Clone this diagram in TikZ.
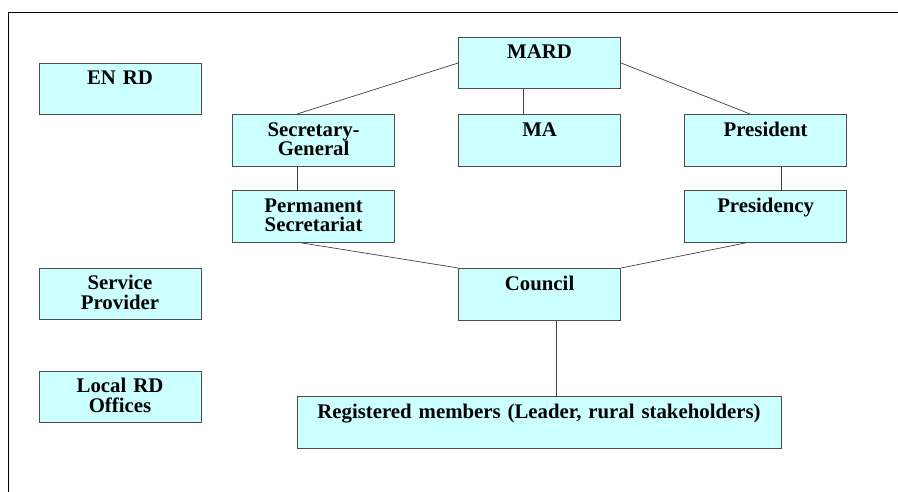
\documentclass[tikz,border=0pt]{standalone}
\usepackage{fontspec}
\setmainfont{Liberation Serif}
\usepackage{xcolor}
\usepackage{tikz}
\definecolor{boxfill}{HTML}{CCFFFF}
\definecolor{boxline}{HTML}{4D4D4D}

\begin{document}
\begin{tikzpicture}[
    unit/.style={draw=boxline, line width=0.7pt, fill=boxfill, inner xsep=0.1cm, inner ysep=0pt,
      text width=3.85cm, align=center, text height=15.5pt, text depth=21.4pt,
      font=\bfseries\fontsize{14.8}{13.8}\selectfont},
    link/.style={draw=black!75, line width=0.5pt}]
      \useasboundingbox (0,0) rectangle (22.45,-12.3);
      \draw[line width=0.7pt] (0.2,-12.3) -- (0.2,-0.3) -- (22.45,-0.3);
        % left column
      \node[unit] (ENRD) at (3.0,-2.225) {EN RD};
      \node[unit] (SP) at (3.0,-7.35) {Service\\Provider};
      \node[unit] (LRD) at (3.0,-9.925) {Local RD\\Offices};
        % hierarchy
      \node[unit] (MARD) at (13.49,-1.575) {MARD};
      \node[unit] (SG) at (7.84,-3.51) {Secretary-\\General};
      \node[unit] (MA) at (13.49,-3.51) {MA};
      \node[unit] (Pres) at (19.14,-3.51) {President};
      \node[unit] (PS) at (7.84,-5.41) {Permanent\\Secretariat};
      \node[unit] (Presy) at (19.14,-5.41) {Presidency};
      \node[unit] (Council) at (13.49,-7.36) {Council};
      \node[unit, text width=11.9cm] (Reg) at (13.475,-10.56) {Registered members (Leader, rural stakeholders)};
        % connectors
      \draw[link] (MARD.west) -- ([xshift=-0.41cm]SG.north);
      \draw[link] (MARD.east) -- ([xshift=-0.39cm]Pres.north);
      \draw[link] ([xshift=-0.41cm]MARD.south) -- ([xshift=-0.41cm]MA.north);
      \draw[link] ([xshift=-0.41cm]SG.south) -- ([xshift=-0.41cm]PS.north);
      \draw[link] ([xshift=0.39cm]Pres.south) -- ([xshift=0.39cm]Presy.north);
      \draw[link] ([xshift=-0.31cm]PS.south) -- (Council.north west);
      \draw[link] ([xshift=-0.49cm]Presy.south) -- (Council.north east);
      \draw[link] ([xshift=0.41cm]Council.south) -- ([xshift=0.41cm]Council.south |- Reg.north);
\end{tikzpicture}
\end{document}
